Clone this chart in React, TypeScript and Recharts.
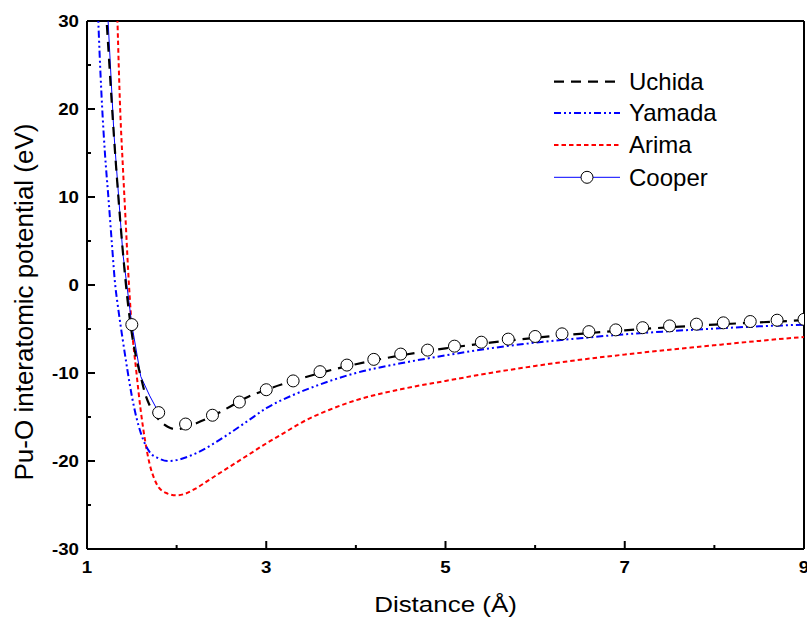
import React from 'react';
import { LineChart, Line, XAxis, YAxis, ReferenceLine, Legend } from 'recharts';

// ---- data ----
const uchidaX = [1.15, 1.2, 1.25, 1.3, 1.35, 1.4, 1.45, 1.5, 1.55, 1.6, 1.65, 1.7, 1.8, 1.9, 2.0, 2.1, 2.2, 2.4, 2.6, 2.8, 3.0, 3.3, 3.6, 4.0, 4.5, 5.0, 5.5, 6.0, 6.5, 7.0, 7.5, 8.0, 8.5, 9.0];
const uchidaY = [45, 33.5, 25, 17, 10, 3.8, -1.5, -5.5, -8.3, -10.4, -12.4, -13.7, -15.3, -16.1, -16.4, -16.2, -15.8, -14.9, -13.8, -12.7, -11.9, -10.9, -10.0, -9.0, -8.0, -7.2, -6.55, -6.0, -5.55, -5.15, -4.8, -4.5, -4.25, -4.0];

const yamadaX = [1.1, 1.13, 1.17, 1.2, 1.24, 1.28, 1.31, 1.35, 1.4, 1.45, 1.5, 1.55, 1.6, 1.7, 1.8, 1.9, 2.0, 2.1, 2.2, 2.4, 2.6, 2.8, 3.0, 3.3, 3.6, 4.0, 4.5, 5.0, 5.5, 6.0, 6.5, 7.0, 7.5, 8.0, 8.5, 9.0];
const yamadaY = [38, 29, 20, 15, 9.8, 4.4, 0.5, -2.8, -6.3, -9.6, -12.6, -15.0, -16.8, -19.0, -19.7, -20.0, -19.9, -19.6, -19.2, -18.1, -16.8, -15.4, -14.0, -12.5, -11.3, -10.0, -8.9, -8.0, -7.2, -6.55, -6.05, -5.6, -5.25, -4.95, -4.7, -4.5];

const arimaX = [1.32, 1.34, 1.37, 1.4, 1.43, 1.46, 1.5, 1.55, 1.6, 1.65, 1.7, 1.75, 1.8, 1.9, 2.0, 2.1, 2.2, 2.4, 2.6, 2.8, 3.0, 3.2, 3.4, 3.7, 4.0, 4.5, 5.0, 5.5, 6.0, 6.5, 7.0, 7.5, 8.0, 8.5, 9.0];
const arimaY = [38, 30, 20, 13.5, 7.5, 1.5, -4.8, -9.8, -14.3, -17.8, -20.4, -22.0, -23.0, -23.7, -23.9, -23.7, -23.2, -21.9, -20.6, -19.3, -18.0, -16.8, -15.6, -14.2, -13.1, -11.85, -10.9, -10.0, -9.2, -8.5, -7.9, -7.35, -6.85, -6.35, -5.9];

const cooperX = [1.2, 1.3, 1.4, 1.5, 1.6, 1.7, 1.8, 2.1, 2.4, 2.7, 3.0, 3.3, 3.6, 3.9, 4.2, 4.5, 4.8, 5.1, 5.4, 5.7, 6.0, 6.3, 6.6, 6.9, 7.2, 7.5, 7.8, 8.1, 8.4, 8.7, 9.0];
const cooperY = [37, 17.3, 3.6, -4.5, -10.4, -12.6, -14.5, -15.8, -14.8, -13.3, -11.9, -10.9, -9.85, -9.1, -8.45, -7.85, -7.4, -6.95, -6.5, -6.15, -5.85, -5.55, -5.3, -5.1, -4.85, -4.65, -4.45, -4.3, -4.15, -4.0, -3.9];
// which Cooper points carry a symbol, and which are joined by the visible thin line
const cooperMarked = [0, 0, 0, 1, 0, 0, 1, 1, 1, 1, 1, 1, 1, 1, 1, 1, 1, 1, 1, 1, 1, 1, 1, 1, 1, 1, 1, 1, 1, 1, 1];
const cooperLined = [1, 1, 1, 1, 1, 1, 1, 0, 0, 0, 0, 0, 0, 0, 0, 0, 0, 0, 0, 0, 0, 0, 0, 0, 0, 0, 0, 0, 0, 0, 0];

const xTicks = [1, 2, 3, 4, 5, 6, 7, 8, 9];
const xLabelTicks = [1, 3, 5, 7, 9];
const yTicks = [-30, -25, -20, -15, -10, -5, 0, 5, 10, 15, 20, 25, 30];
const yLabelTicks = [-30, -20, -10, 0, 10, 20, 30];

const seriesNames = ['Uchida', 'Yamada', 'Arima', 'Cooper'];
const xTitle = 'Distance (Å)';
const yTitle = 'Pu-O interatomic potential (eV)';

// ---- built tables ----
const toPts = (xs: number[], ys: number[]) => xs.map((x, i) => ({ x, y: ys[i] }));
const uchida = toPts(uchidaX, uchidaY);
const yamada = toPts(yamadaX, yamadaY);
const arima = toPts(arimaX, arimaY);
const cooper = toPts(cooperX, cooperY);
const cooperLine = cooper.filter((_, i) => cooperLined[i] === 1);
const cooperMarkers = cooper.filter((_, i) => cooperMarked[i] === 1);

const FONT = '"Liberation Sans", Arial, Helvetica, sans-serif';

const styles = [
  { color: '#000000', dash: '10 7', width: 2.2 },
  { color: '#0000ff', dash: '7 3 2 3 2 3', width: 2 },
  { color: '#ff0000', dash: '4.5 3', width: 2 },
  { color: '#0000ff', dash: undefined as string | undefined, width: 1 },
];

function XTick(props: any) {
  const { x, y, payload } = props;
  const v = payload.value;
  const major = xLabelTicks.includes(v);
  return (
    <g>
      <line x1={x} x2={x} y1={y} y2={y - (major ? 8 : 4)} stroke="#000" strokeWidth={2} />
      {major && (
        <text
          transform={`translate(${x},${y + 24}) scale(1.1,1)`}
          textAnchor="middle"
          fontFamily={FONT}
          fontWeight="bold"
          fontSize={17}
          fill="#000"
        >
          {v}
        </text>
      )}
    </g>
  );
}

function YTick(props: any) {
  const { x, y, payload } = props;
  const v = payload.value;
  const major = yLabelTicks.includes(v);
  return (
    <g>
      <line x1={x} x2={x + (major ? 8 : 4)} y1={y} y2={y} stroke="#000" strokeWidth={2} />
      {major && (
        <text
          transform={`translate(${x - 8},${y}) scale(1.1,1)`}
          textAnchor="end"
          dy="0.36em"
          fontFamily={FONT}
          fontWeight="bold"
          fontSize={17}
          fill="#000"
        >
          {v}
        </text>
      )}
    </g>
  );
}

function XTitle(props: any) {
  const vb = props.viewBox || { x: 87, y: 549, width: 717, height: 70 };
  const cx = vb.x + vb.width / 2;
  return (
    <text
      transform={`translate(${cx},${vb.y + 63}) scale(1.18,1)`}
      textAnchor="middle"
      fontFamily={FONT}
      fontSize={22}
      fill="#000"
    >
      {xTitle}
    </text>
  );
}

function YTitle(props: any) {
  const vb = props.viewBox || { x: 0, y: 21, width: 87, height: 528 };
  const cy = vb.y + vb.height / 2 + 17;
  return (
    <text
      transform={`translate(${vb.x + 33},${cy}) rotate(-90)`}
      textAnchor="middle"
      fontFamily={FONT}
      fontSize={26}
      fill="#000"
    >
      {yTitle}
    </text>
  );
}

function LegendBox() {
  const rowY = [21.7, 53, 85, 117.3];
  return (
    <svg width={200} height={140} style={{ display: 'block' }}>
      {seriesNames.map((name, i) => {
        const s = styles[i];
        const yy = rowY[i];
        return (
          <g key={name}>
            <line
              x1={14}
              x2={80}
              y1={yy}
              y2={yy}
              stroke={s.color}
              strokeWidth={s.width}
              strokeDasharray={s.dash}
            />
            {i === 3 && <circle cx={47} cy={yy} r={6} fill="#fff" stroke="#000" strokeWidth={1} />}
            <text x={89} y={yy} dy="0.35em" fontFamily={FONT} fontSize={24} fill="#000">
              {name}
            </text>
          </g>
        );
      })}
    </svg>
  );
}

export default function App() {
  return (
    <div style={{ position: 'absolute', left: 0, top: 0, width: 807, height: 619, background: '#fff' }}>
      <LineChart width={807} height={619} margin={{ top: 21, right: 3, bottom: 0, left: 0 }}>
        <XAxis
          dataKey="x"
          type="number"
          domain={[1, 9]}
          ticks={xTicks}
          interval={0}
          allowDataOverflow
          height={70}
          tickSize={0}
          tickMargin={0}
          tickLine={false}
          axisLine={{ stroke: '#000', strokeWidth: 2 }}
          tick={(p: any) => <XTick {...p} />}
          label={{ content: (p: any) => <XTitle {...p} /> }}
        />
        <YAxis
          dataKey="y"
          type="number"
          domain={[-30, 30]}
          ticks={yTicks}
          interval={0}
          allowDataOverflow
          width={87}
          tickSize={0}
          tickMargin={0}
          tickLine={false}
          axisLine={{ stroke: '#000', strokeWidth: 2 }}
          tick={(p: any) => <YTick {...p} />}
          label={{ content: (p: any) => <YTitle {...p} /> }}
        />
        <ReferenceLine y={30} stroke="#000" strokeWidth={2} />
        <ReferenceLine x={9} stroke="#000" strokeWidth={2} />
        <Line
          data={arima}
          dataKey="y"
          type="monotone"
          stroke={styles[2].color}
          strokeWidth={styles[2].width}
          strokeDasharray={styles[2].dash}
          dot={false}
          isAnimationActive={false}
        />
        <Line
          data={yamada}
          dataKey="y"
          type="monotone"
          stroke={styles[1].color}
          strokeWidth={styles[1].width}
          strokeDasharray={styles[1].dash}
          dot={false}
          isAnimationActive={false}
        />
        <Line
          data={cooperLine}
          dataKey="y"
          type="linear"
          stroke={styles[3].color}
          strokeWidth={styles[3].width}
          dot={false}
          isAnimationActive={false}
        />
        <Line
          data={uchida}
          dataKey="y"
          type="monotone"
          stroke={styles[0].color}
          strokeWidth={styles[0].width}
          strokeDasharray={styles[0].dash}
          dot={false}
          isAnimationActive={false}
        />
        <Line
          data={cooperMarkers}
          dataKey="y"
          type="linear"
          stroke="none"
          dot={{ r: 6, fill: '#fff', stroke: '#000', strokeWidth: 1 }}
          isAnimationActive={false}
        />
        <Legend
          layout="vertical"
          align="center"
          verticalAlign="middle"
          wrapperStyle={{ position: 'absolute', left: 540, top: 60, width: 200, height: 140 }}
          content={() => <LegendBox />}
        />
      </LineChart>
    </div>
  );
}
